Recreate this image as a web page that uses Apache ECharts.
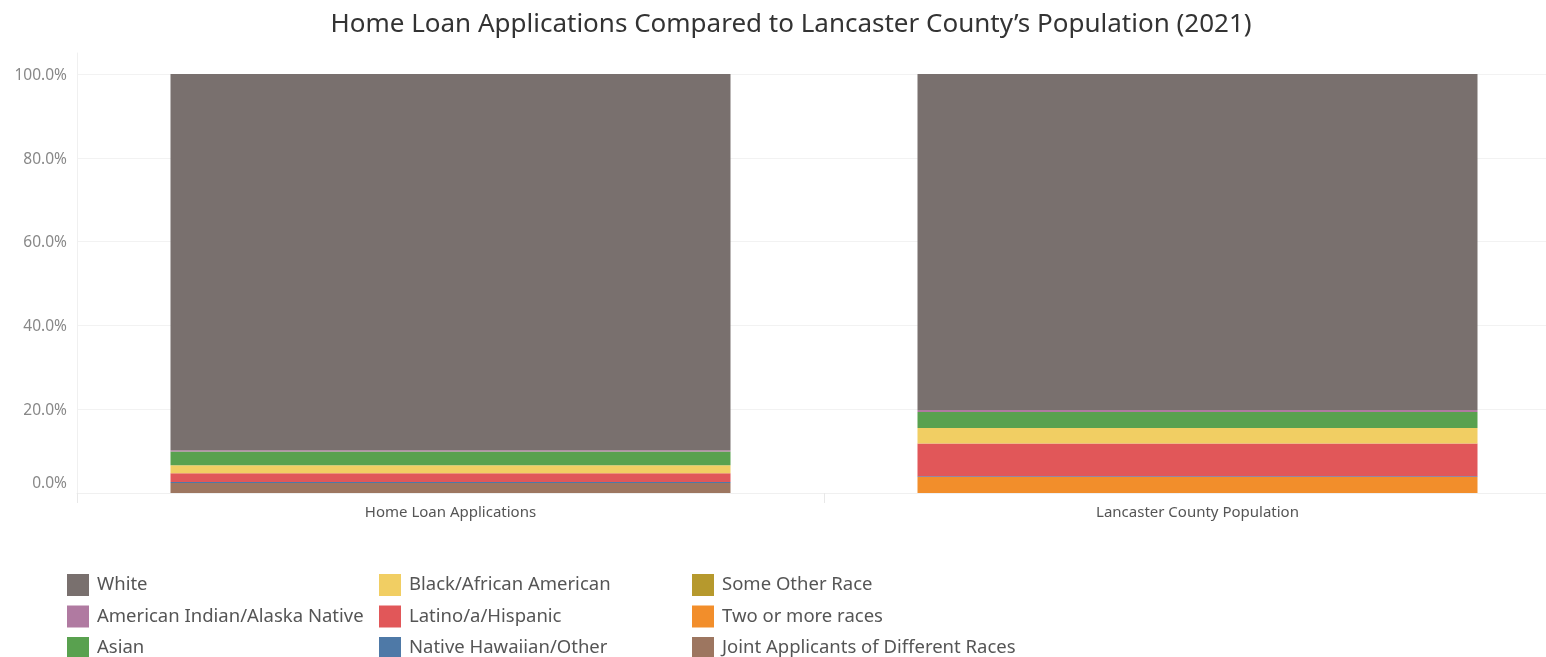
<!DOCTYPE html>
<html>
<head>
<meta charset="utf-8">
<script src="https://cdn.jsdelivr.net/npm/echarts@6/dist/echarts.min.js"></script>
<style>html,body{margin:0;padding:0;background:#fff}#c{width:1546px;height:657px}</style>
</head>
<body>
<div id="c"></div>
<script>
const categories = ['Home Loan Applications', 'Lancaster County Population'];
const white = [89.8, 80.2];
const amIndian = [0.3, 0.5];
const asian = [3.3, 3.8];
const black = [1.9, 3.7];
const latino = [2.1, 7.8];
const nhpi = [0.2, 0.2];
const someOther = [0, 0];
const twoOrMore = [0, 3.8];
const joint = [2.4, 0];
const yTicks = [0, 20, 40, 60, 80, 100];

const seriesDefs = [
  ['Joint Applicants of Different Races', joint, '#9D7660'],
  ['Two or more races', twoOrMore, '#F28E2B'],
  ['Some Other Race', someOther, '#B6992D'],
  ['Native Hawaiian/Other', nhpi, '#4E79A7'],
  ['Latino/a/Hispanic', latino, '#E15759'],
  ['Black/African American', black, '#F1CE63'],
  ['Asian', asian, '#59A14F'],
  ['American Indian/Alaska Native', amIndian, '#B07AA1'],
  ['White', white, '#79706E']
];
const legendCols = [
  ['White', 'American Indian/Alaska Native', 'Asian'],
  ['Black/African American', 'Latino/a/Hispanic', 'Native Hawaiian/Other'],
  ['Some Other Race', 'Two or more races', 'Joint Applicants of Different Races']
];
const legendLeft = [67, 379, 692];
const font = 'Noto Sans';

const chart = echarts.init(document.getElementById('c'));
chart.setOption({
  animation: false,
  textStyle: { fontFamily: font },
  title: {
    text: 'Home Loan Applications Compared to Lancaster County\u2019s Population (2021)',
    left: 786, top: 7, textAlign: 'center',
    textStyle: { fontFamily: font, fontSize: 26, fontWeight: 'normal', color: '#333' }
  },
  legend: legendCols.map((col, i) => ({
    data: col, orient: 'vertical', left: legendLeft[i], top: 574, height: 140,
    padding: 0, icon: 'rect', itemWidth: 22, itemHeight: 22, itemGap: 9.5,
    textStyle: { fontFamily: font, fontSize: 18.5, color: '#555', padding: [0, 0, 0, 3] },
    selectedMode: false
  })),
  grid: { left: 77, width: 1494, top: 53, bottom: 164, outerBoundsMode: 'none', containLabel: false },
  xAxis: {
    type: 'category', data: categories,
    axisLine: { show: true, lineStyle: { color: '#f0f0f0' } },
    axisTick: { show: true, length: 10, lineStyle: { color: '#e8e8e8' } },
    axisLabel: { fontFamily: font, fontSize: 15, color: '#555', margin: 12 }
  },
  yAxis: {
    type: 'value', min: 0, max: 105, interval: 20,
    axisLine: { show: true, lineStyle: { color: '#f0f0f0' } },
    axisTick: { show: false },
    splitLine: { lineStyle: { color: ['#f2f2f2','#f2f2f2','#f2f2f2','#f2f2f2','#f2f2f2','#f2f2f2','rgba(0,0,0,0)'] } },
    axisLabel: {
      fontFamily: font, fontSize: 15.5, color: '#888', margin: 10,
      formatter: v => {
        if (yTicks.indexOf(v) < 0) return '';
        if (v === 0) return '{z|0.0%}';
        return '{n|' + v.toFixed(1) + '%}';
      },
      rich: {
        z: { fontFamily: font, fontSize: 15.5, color: '#888', padding: [0, 0, 18, 0] },
        n: { fontFamily: font, fontSize: 15.5, color: '#888', padding: [3, 0, 0, 0] }
      }
    }
  },
  series: seriesDefs.map(([name, data, color]) => ({
    name, type: 'bar', stack: 'total', data, barWidth: 560,
    itemStyle: { color }
  }))
});
</script>
</body>
</html>
